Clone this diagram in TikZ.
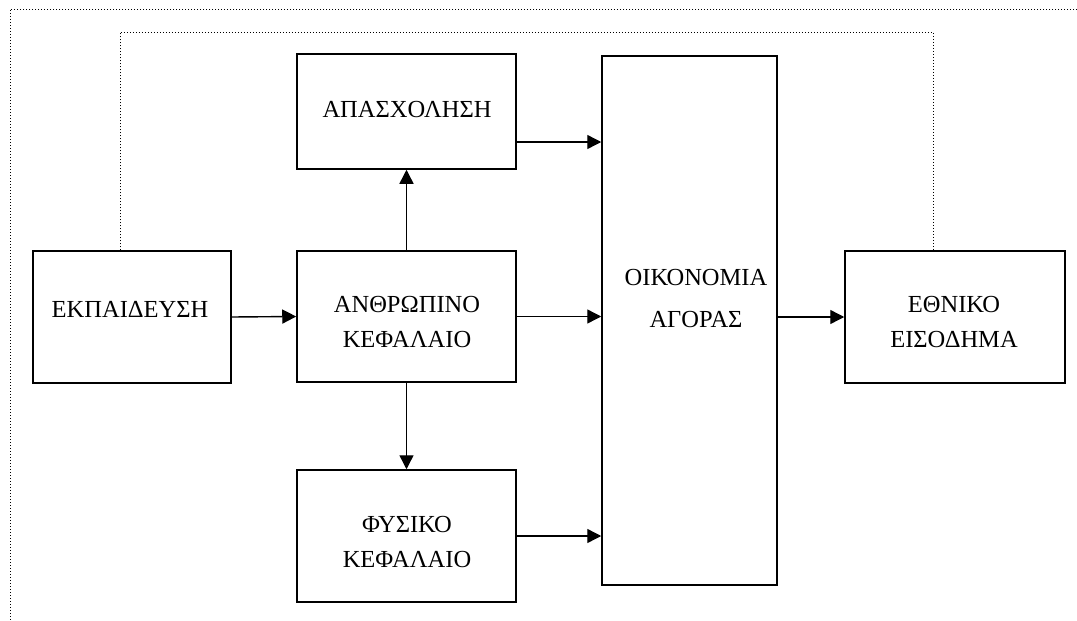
\documentclass[tikz,border=0pt]{standalone}
\usepackage{fontspec}
\setmainfont{Liberation Serif}
\usetikzlibrary{arrows.meta}
\tikzset{
  boxnode/.style={draw, line width=1.5pt, rectangle, inner sep=0pt},
  txt/.style={anchor=base, inner sep=0pt, align=center, font=\fontsize{24.5}{35}\selectfont},
  conn/.style={line width=1.4pt, -{Triangle[length=14pt,width=14pt]}},
  dotline/.style={line width=0.9pt, dash pattern=on 1pt off 2pt}
}
\begin{document}
\begin{tikzpicture}[x=1pt,y=-1pt]
\useasboundingbox (0,0) rectangle (1077,621);
% boxes
\node[boxnode, minimum width=219pt, minimum height=115pt] (apas) at (406.5,111.5) {};
\node[boxnode, minimum width=219pt, minimum height=131pt] (anth) at (406.5,316.5) {};
\node[boxnode, minimum width=219pt, minimum height=132pt] (fys) at (406.5,536) {};
\node[boxnode, minimum width=175pt, minimum height=529pt] (oik) at (689.5,320.5) {};
\node[boxnode, minimum width=198pt, minimum height=132pt] (ekp) at (132,317) {};
\node[boxnode, minimum width=220pt, minimum height=132pt] (ethn) at (955,317) {};
% texts (base anchor = baseline of last line)
\node[txt] (apast) at (407,117) {ΑΠΑΣΧΟΛΗΣΗ};
\node[txt] (antht) at (407,347) {ΑΝΘΡΩΠΙΝΟ\\ΚΕΦΑΛΑΙΟ};
\node[txt] (fyst) at (407,567) {ΦΥΣΙΚΟ\\ΚΕΦΑΛΑΙΟ};
\node[txt] (oikt) at (696,327) {ΟΙΚΟΝΟΜΙΑ\\[7pt]ΑΓΟΡΑΣ};
\node[txt] (ekpt) at (130,317) {ΕΚΠΑΙΔΕΥΣΗ};
\node[txt] (etht) at (954,347) {ΕΘΝΙΚΟ\\ΕΙΣΟΔΗΜΑ};
% helper coordinates
\coordinate (ya) at (0,142);
\coordinate (dA) at (120,32);
\coordinate (dB) at (933,32);
\coordinate (f1) at (1077,9);
\coordinate (f2) at (10,9);
\coordinate (f3) at (10,621);
% connectors
\draw[conn] (apas.east |- ya) -- (oik.west |- ya);
\draw[conn] (anth.east) -- (oik.west |- anth.east);
\draw[conn] (fys.east) -- (oik.west |- fys.east);
\draw[conn] (ekp.east) -- (anth.west);
\draw[conn] (oik.east |- ethn.west) -- (ethn.west);
\draw[conn] (anth.north) -- (apas.south);
\draw[conn] (anth.south) -- (fys.north);
% dotted lines
\draw[dotline] (ekp.north -| dA) -- (dA) -- (dB) -- (ethn.north -| dB);
\draw[dotline] (f1) -- (f2) -- (f3);
\end{tikzpicture}
\end{document}
